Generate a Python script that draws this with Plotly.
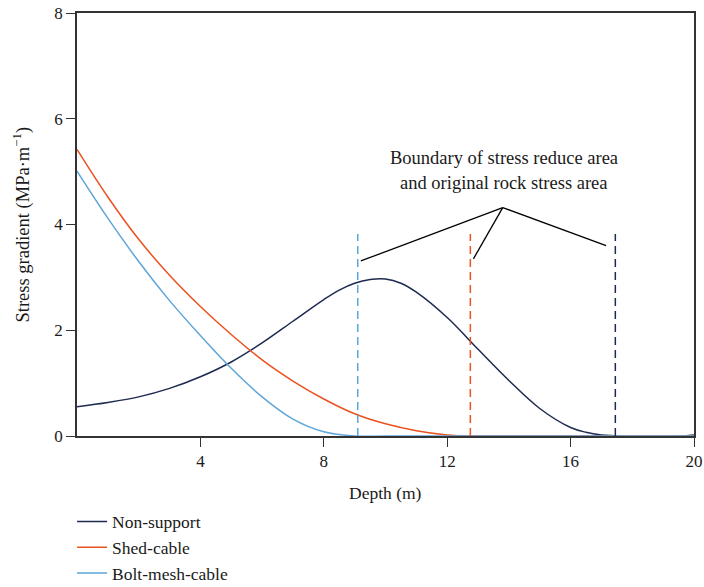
import plotly.graph_objects as go

# ---------------- data ----------------
depth = [0, 1, 2, 3, 4, 5, 6, 7, 8, 8.5, 9, 9.5, 10, 10.5, 11, 12, 13, 14, 15, 16, 16.5, 17, 17.5, 18, 18.5, 19, 19.5, 20]
non_support = [0.555, 0.635, 0.74, 0.90, 1.12, 1.40, 1.76, 2.17, 2.58, 2.76, 2.89, 2.96, 2.97, 2.89, 2.72, 2.24,
               1.64, 1.05, 0.52, 0.16, 0.07, 0.02, 0.0, -0.03, -0.045, -0.04, -0.01, 0.02]

shed_depth = [0, 1, 2, 3, 4, 5, 6, 7, 8, 9, 10, 11, 12, 12.7, 14, 16, 18, 20]
shed_cable = [5.42, 4.52, 3.72, 3.04, 2.45, 1.92, 1.44, 1.04, 0.70, 0.42, 0.23, 0.10, 0.02, 0.0, 0.0, 0.0, 0.0, 0.0]

bolt_depth = [0, 1, 2, 3, 4, 5, 6, 7, 8, 9, 10, 12, 14, 16, 18, 20]
bolt_mesh_cable = [5.01, 4.12, 3.30, 2.56, 1.90, 1.28, 0.74, 0.32, 0.08, 0.0, 0.0, 0.0, 0.0, 0.0, 0.0, 0.0]

# boundary positions (depth) and dashed-line height
boundary_depth = {"Bolt-mesh-cable": 9.1, "Shed-cable": 12.75, "Non-support": 17.45}
boundary_top = 3.82

# annotation leader lines: apex and end points
apex = (13.8, 4.32)
leader_ends = [(9.2, 3.31), (12.85, 3.35), (17.15, 3.6)]

x_ticks = [4, 8, 12, 16, 20]
y_ticks = [0, 2, 4, 6, 8]

colors = {"Non-support": "#1e2a50", "Shed-cable": "#ea5220", "Bolt-mesh-cable": "#5ea5da"}

FONT = "Liberation Serif"
TXT = "#1a1a1a"

fig = go.Figure()
series = [("Non-support", depth, non_support),
          ("Shed-cable", shed_depth, shed_cable),
          ("Bolt-mesh-cable", bolt_depth, bolt_mesh_cable)]
for i, (name, xs, ys) in enumerate(series):
    fig.add_trace(go.Scatter(x=xs, y=ys, mode="lines", name=name,
                             line=dict(color=colors[name], width=1.5, shape="spline", smoothing=1.0)))

# dashed boundary lines
for name, xb in boundary_depth.items():
    fig.add_trace(go.Scatter(x=[xb, xb], y=[0, boundary_top], mode="lines", showlegend=False,
                             line=dict(color=colors[name], width=1.5, dash="8px,5px")))

# leader lines
for (xe, ye) in leader_ends:
    fig.add_trace(go.Scatter(x=[apex[0], xe], y=[apex[1], ye], mode="lines", showlegend=False,
                             line=dict(color="black", width=1.3)))

fig.add_annotation(x=13.85, y=5.26, xref="x", yref="y", text="Boundary of stress reduce area",
                   showarrow=False, font=dict(family=FONT, size=18.5, color=TXT))
fig.add_annotation(x=13.85, y=4.785, xref="x", yref="y", text="and original rock stress area",
                   showarrow=False, font=dict(family=FONT, size=18.5, color=TXT))

# axis titles
fig.add_annotation(x=0.5, y=0, xref="paper", yref="paper", yshift=-57, text="Depth (m)",
                   showarrow=False, yanchor="middle", font=dict(family=FONT, size=17.5, color=TXT))
fig.add_annotation(x=0, y=0.5, xref="paper", yref="paper", xshift=-55, textangle=-90,
                   text="Stress gradient (MPa·m<sup>−1</sup>)", showarrow=False,
                   xanchor="center", yanchor="middle", font=dict(family=FONT, size=18.5, color=TXT))

fig.update_layout(
    width=704, height=587,
    margin=dict(l=77, r=10, t=13, b=151),
    paper_bgcolor="white", plot_bgcolor="white",
    font=dict(family=FONT, size=17, color=TXT),
    showlegend=True,
    legend=dict(x=-0.008, xref="paper", y=0.142, yref="container", xanchor="left", yanchor="top",
                orientation="v", bgcolor="rgba(0,0,0,0)", font=dict(family=FONT, size=17.5)),
)
fig.update_xaxes(range=[0, 20], tickvals=x_ticks, ticks="outside", ticklen=9, tickwidth=1.2,
                 tickcolor="#333", showline=True, linecolor="#333", linewidth=1.5, mirror=True,
                 showgrid=False, zeroline=False, automargin=False,
                 tickfont=dict(family=FONT, size=17, color=TXT))
fig.update_yaxes(range=[0, 8], tickvals=y_ticks, ticks="outside", ticklen=9, tickwidth=1.2,
                 tickcolor="#333", showline=True, linecolor="#333", linewidth=1.5, mirror=True,
                 showgrid=False, zeroline=False, automargin=False,
                 tickfont=dict(family=FONT, size=17, color=TXT))

fig.write_html("out.html")
